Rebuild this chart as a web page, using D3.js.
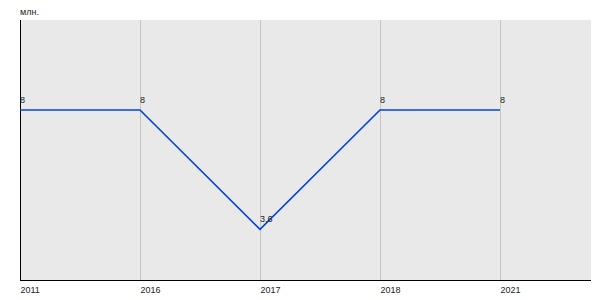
<!DOCTYPE html>
<html><head><meta charset="utf-8">
<script src="https://cdn.jsdelivr.net/npm/d3@7"></script>
<style>body{margin:0;background:#fff}svg{display:block}</style>
</head><body>
<svg id="c" width="600" height="300"></svg>
<script>
const categories = ["2011","2016","2017","2018","2021"];
const values = [8, 8, 3.6, 8, 8];
const labels = ["8","8","3.6","8","8"];
const unitLabel = "млн.";

(function(){
const svg = d3.select("#c");
const pL = 20, pT = 20, pR = 591, pB = 280;
const x = d3.scalePoint().domain(categories).range([pL, 500]);
const y = d3.scaleLinear().domain([1.73, 11.32]).range([pB, pT]);
const font = "Liberation Sans, Arial, sans-serif";

svg.append("rect").attr("x", pL).attr("y", pT).attr("width", pR-pL).attr("height", pB-pT).attr("fill", "#e9e9e9");

svg.append("g").selectAll("line").data(categories.slice(1)).join("line")
  .attr("x1", d=>x(d)+0.5).attr("x2", d=>x(d)+0.5).attr("y1", pT).attr("y2", pB)
  .attr("stroke", "#c6c6c6").attr("stroke-width", 1);

svg.append("line").attr("x1", pL+0.5).attr("x2", pL+0.5).attr("y1", pT).attr("y2", pB).attr("stroke", "#000");
svg.append("line").attr("x1", pL).attr("x2", pR).attr("y1", pB+0.5).attr("y2", pB+0.5).attr("stroke", "#000");

const xAxis = svg.append("g").attr("transform", `translate(0,${pB})`)
  .call(d3.axisBottom(x).tickSize(0).tickPadding(0));
xAxis.select(".domain").remove();
xAxis.selectAll("text").attr("text-anchor","start").attr("dy",null).attr("y", 13)
  .attr("font-family",font).attr("font-size", 9).attr("fill","#222");

svg.append("text").attr("x", 20).attr("y", 15).text(unitLabel)
  .attr("font-family",font).attr("font-size", 9).attr("fill","#222");

const line = d3.line().x((d,i)=>x(categories[i])).y(d=>y(d));
svg.append("path").datum(values).attr("d", line).attr("fill","none")
  .attr("stroke","#0044dd").attr("stroke-width",1.6);

svg.append("g").selectAll("text").data(values).join("text")
  .attr("x",(d,i)=>x(categories[i])).attr("y", d=>y(d)-7)
  .text((d,i)=>labels[i])
  .attr("font-family",font).attr("font-size", 9).attr("fill","#222");
})();
</script>
</body></html>
